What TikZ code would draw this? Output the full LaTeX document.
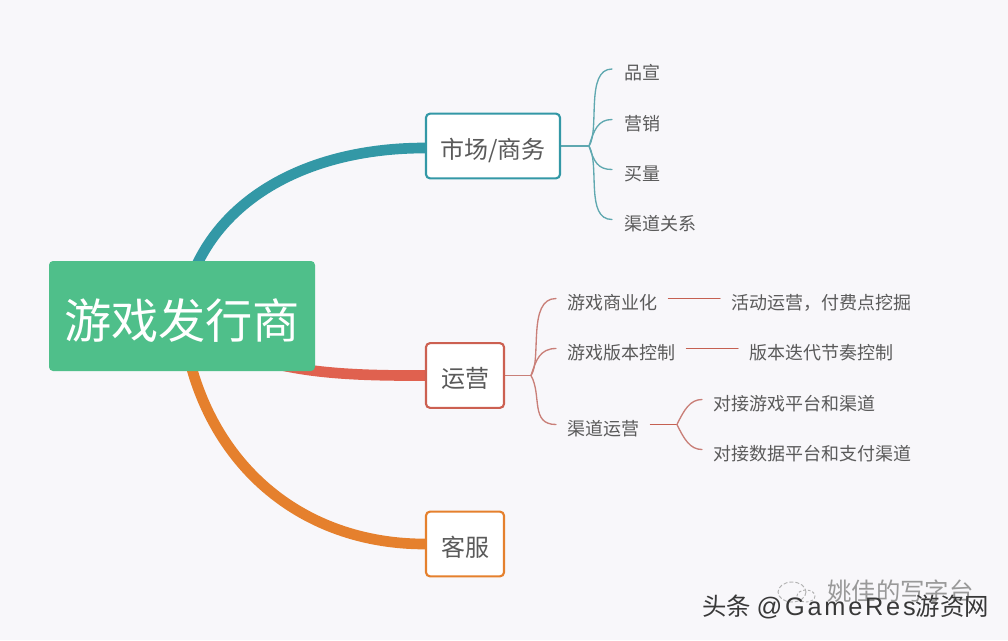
\documentclass[tikz,border=0pt]{standalone}
\usepackage{fontspec}
\setmainfont{Noto Sans CJK SC}
\newfontfamily\wmlatin[LetterSpace=11]{Liberation Sans}
\usetikzlibrary{backgrounds}
\definecolor{bgc}{HTML}{F8F7FA}
\definecolor{rootc}{HTML}{4FBF8A}
\definecolor{tealc}{HTML}{3398A6}
\definecolor{tealt}{HTML}{5FA8B0}
\definecolor{redc}{HTML}{E0614F}
\definecolor{redt}{HTML}{C97F78}
\definecolor{orc}{HTML}{E5802D}
\definecolor{txt}{HTML}{5A5A5A}
\tikzset{
  rootbox/.style={fill=rootc,rounded corners=3pt,text=white,font=\fontsize{35.4}{36}\selectfont,minimum width=199.5pt,minimum height=82.5pt,inner sep=0pt,text height=36pt,text depth=2.6pt},
  topic/.style={draw=#1,line width=1.6pt,fill=white,rounded corners=3pt,text=txt,font=\fontsize{18}{18}\selectfont,minimum height=48.5pt,inner sep=0pt,text height=20pt,text depth=1.8pt},
  leaf/.style={text=txt,font=\fontsize{13.5}{13.5}\selectfont,inner ysep=0pt,inner xsep=8.25pt,anchor=west,text height=18pt,text depth=2pt},
  tealleaf/.style={leaf,inner xsep=9.25pt},
  thick link/.style={line width=8pt},
  thin link/.style={line width=1pt,line cap=round},
  mark text/.style={text=#1,font=\fontsize{18.3}{18.3}\selectfont,inner sep=0pt,anchor=west}
}
\begin{document}
\begin{tikzpicture}[x=.75pt,y=-.75pt]
\useasboundingbox (0,0) rectangle (1008,640);
\node[rootbox] (root) at (182,316) {游戏发行商};
\node[topic=tealc,minimum width=100.5pt] (mkt) at (493,146) {市场/商务};
\node[topic=redc!85!txt,minimum width=58.5pt] (ops) at (465,375.5) {运营};
\node[topic=orc,minimum width=58.5pt] (svc) at (465,544) {客服};
% teal branch leaves
\node[tealleaf] (t1) at (612,69) {品宣};
\node[tealleaf] (t2) at (612,119.5) {营销};
\node[tealleaf] (t3) at (612,169.5) {买量};
\node[tealleaf] (t4) at (612,219.5) {渠道关系};
% red branch leaves
\node[leaf] (r1) at (556,298.5) {游戏商业化};
\node[leaf] (r2) at (556,348.5) {游戏版本控制};
\node[leaf] (r3) at (556,424.5) {渠道运营};
\node[leaf] (r1a) at (720,298.5) {活动运营，付费点挖掘};
\node[leaf] (r2a) at (738,348.5) {版本迭代节奏控制};
\node[leaf] (r3a) at (702,399.5) {对接游戏平台和渠道};
\node[leaf] (r3b) at (702,449.5) {对接数据平台和支付渠道};
% watermarks
\draw[black!30,line width=.7pt,dash pattern=on 3pt off 1.5pt] (792,592) ellipse (14 and 10);
\draw[black!30,line width=.7pt,dash pattern=on 2pt off 1.5pt] (806,596) ellipse (9 and 6);
\node[mark text=black!40] (wm1) at (827,591) {姚佳的写字台};
\node[mark text=black!78] (wm2) at (702,607) {头条 {\wmlatin\fontsize{19}{19}\selectfont @GameRes}游资网};
\coordinate (tj) at (589,146);
\coordinate (rj) at (531,375.5);
\coordinate (sj) at (677,424.5);
\begin{scope}[on background layer]
\fill[bgc] (0,0) rectangle (1008,640);
\draw[thick link,tealc] (root.center) .. controls (195,215) and (290,148) .. ([yshift=-1.5pt]mkt.west);
\draw[thick link,redc] (root.center) .. controls (240,370) and (320,376) .. (ops.west);
\draw[thick link,orc] (root.center) .. controls (195,450) and (290,544) .. (svc.west);
\draw[thin link,tealt] (mkt.east) -- (tj);
\draw[thin link,tealt] (tj) .. controls (600,130) and (585,69) .. (t1.west);
\draw[thin link,tealt] (tj) .. controls (594,130) and (598,119.5) .. (t2.west);
\draw[thin link,tealt] (tj) .. controls (594,162) and (598,169.5) .. (t3.west);
\draw[thin link,tealt] (tj) .. controls (600,165) and (585,219.5) .. (t4.west);
\draw[thin link,redt] (ops.east) -- (rj);
\draw[thin link,redt] (rj) .. controls (542,360) and (527,298.5) .. (r1.west);
\draw[thin link,redt] (rj) .. controls (536,360) and (540,348.5) .. (r2.west);
\draw[thin link,redt] (rj) .. controls (542,395) and (530,424.5) .. (r3.west);
\draw[thin link,redc!80!txt] (r1.east) -- (r1a.west);
\draw[thin link,redc!80!txt] (r2.east) -- (r2a.west);
\draw[thin link,redc!80!txt] (r3.east) -- (sj);
\draw[thin link,redt] (sj) .. controls (684,410) and (690,399.5) .. (r3a.west);
\draw[thin link,redt] (sj) .. controls (684,439) and (690,449.5) .. (r3b.west);
\end{scope}
\end{tikzpicture}
\end{document}
